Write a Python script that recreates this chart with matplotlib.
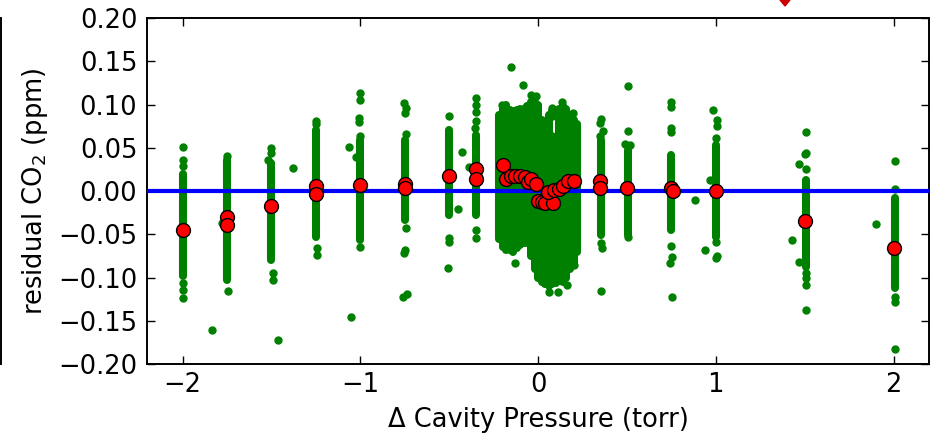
import numpy as np
import matplotlib
matplotlib.use("Agg")
import matplotlib.pyplot as plt
from matplotlib.lines import Line2D
from matplotlib.patches import Polygon

# %% Data
# dense runs of residuals at each pressure step: x, lowest, highest (ppm)
col_x = [-2.0, -1.75, -1.5, -1.25, -1.0, -0.75, -0.503, -0.348,
         0.356, 0.505, 0.749, 1.002, 1.505, 2.006]
col_lo = [-0.098, -0.103, -0.080, -0.053, -0.057, -0.034, -0.028, -0.028,
          -0.051, -0.051, -0.045, -0.053, -0.088, -0.112]
col_hi = [0.020, 0.036, 0.032, 0.070, 0.059, 0.059, 0.070, 0.065,
          0.059, 0.047, 0.042, 0.053, 0.013, -0.008]

# the dense cloud around zero offset: x, lowest, highest
blob_x = [-0.22, -0.20, -0.18, -0.16, -0.14, -0.12, -0.10, -0.08, -0.06,
          -0.04, -0.02, 0.00, 0.02, 0.04, 0.06, 0.08, 0.08, 0.10, 0.10,
          0.12, 0.14, 0.16, 0.18, 0.20, 0.22]
blob_lo = [-0.055, -0.065, -0.068, -0.068, -0.070, -0.066, -0.062, -0.060,
           -0.060, -0.075, -0.090, -0.100, -0.105, -0.108, -0.110, -0.108,
           0.086, -0.106, 0.088, -0.104, -0.105, -0.100, -0.090, -0.085,
           -0.070]
blob_hi = [0.088, 0.098, 0.100, 0.094, 0.093, 0.094, 0.095, 0.095, 0.098,
           0.103, 0.103, 0.100, 0.082, 0.080, 0.088, 0.064, 0.093, 0.062,
           0.090, 0.095, 0.098, 0.095, 0.088, 0.082, 0.078]

# isolated residual points
iso_x = [-2.0, -2.0, -2.0, -2.0, -2.0, -2.0,
         -1.75, -1.745, -1.78, -1.837,
         -1.5, -1.5, -1.52, -1.49, -1.49, -1.466, -1.376,
         -1.25, -1.25, -1.245, -1.245,
         -1.0, -1.0, -1.005, -1.01, -1.0, -1.0, -1.066, -1.027, -1.05,
         -0.755, -0.745, -0.748, -0.745, -0.745, -0.75, -0.755, -0.76, -0.74,
         -0.503, -0.503, -0.50, -0.507, -0.43, -0.45,
         -0.348, -0.348, -0.348, -0.348, -0.352, -0.348, -0.350, -0.386,
         -0.151, -0.085, -0.042, -0.010, 0.136, 0.080, 0.198, -0.127,
         0.060, 0.115, 0.165, 0.200, -0.205,
         0.356, 0.35, 0.365, 0.346, 0.356, 0.358, 0.356,
         0.505, 0.505, 0.49, 0.52, 0.505,
         0.749, 0.749, 0.749, 0.749, 0.749, 0.755, 0.745, 0.755, 0.882,
         0.985, 1.005, 1.005, 1.0, 1.0, 1.005, 1.0, 0.966, 0.942,
         1.505, 1.505, 1.50, 1.47, 1.505, 1.51, 1.505, 1.505, 1.51, 1.43, 1.466,
         2.006, 2.006, 2.006, 2.01, 2.006, 1.904]
iso_y = [0.051, 0.036, 0.029, -0.106, -0.114, -0.124,
         0.041, -0.116, -0.037, -0.161,
         0.050, 0.044, 0.036, -0.095, -0.103, -0.172, 0.027,
         0.081, 0.078, -0.066, -0.074,
         0.113, 0.105, 0.084, 0.080, 0.064, -0.065, 0.051, 0.039, -0.146,
         0.102, 0.096, 0.090, 0.066, -0.043, -0.068, -0.072, -0.122, -0.119,
         0.087, -0.054, -0.059, -0.089, 0.045, -0.021,
         0.107, 0.099, 0.091, 0.081, 0.073, -0.045, -0.054, 0.028,
         0.143, 0.123, 0.111, 0.110, 0.103, 0.096, 0.090, -0.083,
         -0.117, -0.117, -0.109, -0.085, 0.100,
         0.083, 0.079, 0.069, 0.064, -0.060, -0.066, -0.116,
         0.121, 0.069, 0.054, 0.053, -0.053,
         0.103, 0.097, 0.073, 0.068, -0.064, -0.076, -0.083, -0.122, -0.010,
         0.094, 0.082, 0.075, 0.061, -0.059, -0.075, -0.078, 0.013, -0.068,
         0.068, 0.044, 0.043, 0.031, 0.025, -0.095, -0.100, -0.109, -0.138,
         -0.057, -0.082,
         0.035, 0.002, -0.123, -0.128, -0.183, -0.038]

# mean residual for each pressure step
mean_x = [-2.0, -1.75, -1.75, -1.5, -1.25, -1.25, -1.0, -0.75, -0.75,
          -0.5, -0.35, -0.35,
          -0.198, -0.178, -0.155, -0.13, -0.10, -0.075, -0.055, -0.040,
          -0.014, 0.002, 0.022, 0.040, 0.085, 0.055, 0.090, 0.118, 0.143,
          0.168, 0.200,
          0.35, 0.35, 0.5, 0.75, 0.76, 1.0, 1.5, 2.0]
mean_y = [-0.045, -0.030, -0.039, -0.017, 0.006, -0.004, 0.007, 0.008, 0.004,
          0.017, 0.025, 0.014,
          0.030, 0.014, 0.017, 0.017, 0.017, 0.016, 0.010, 0.014,
          0.008, -0.011, -0.013, -0.014, -0.014, -0.001, 0.001, 0.002, 0.006,
          0.011, 0.012,
          0.012, 0.003, 0.003, 0.004, 0.000, 0.000, -0.035, -0.066]

yticks = [-0.20, -0.15, -0.10, -0.05, 0.00, 0.05, 0.10, 0.15, 0.20]
xticks = [-2, -1, 0, 1, 2]

# %% Plot
green = "#008000"
fs = 18.5
plt.rcParams["font.family"] = "DejaVu Sans"
plt.rcParams["axes.unicode_minus"] = True

fig = plt.figure(figsize=(9.36, 4.38), dpi=100)
ax = fig.add_axes([0.1571, 0.1689, 0.8355, 0.7900])

ax.vlines(col_x, col_lo, col_hi, colors=green, linewidth=5.8,
          capstyle="round", zorder=2)
ax.vlines(blob_x, blob_lo, blob_hi, colors=green, linewidth=5.8,
          capstyle="round", zorder=2)
ax.plot(iso_x, iso_y, "o", color=green, markersize=5, markeredgecolor=green,
        zorder=2)
ax.axhline(0, color="#0000ff", linewidth=3, zorder=3)
ax.plot(mean_x, mean_y, "o", color="#ff0000", markersize=10,
        markeredgecolor="k", markeredgewidth=1, zorder=4)

ax.set_xlim(-2.2, 2.2)
ax.set_ylim(-0.2, 0.2)
ax.set_xticks(xticks)
ax.set_yticks(yticks)
ax.set_yticklabels([f"{v:.2f}".replace("-", "\u2212") for v in yticks])
ax.tick_params(direction="in", top=True, right=True, length=6, width=1,
               labelsize=fs)
ax.tick_params(axis="y", pad=7)
ax.tick_params(axis="x", pad=6)
for s in ax.spines.values():
    s.set_linewidth(1.4)

ax.set_xlabel("\u0394 Cavity Pressure (torr)", fontsize=fs, labelpad=6)
ax.set_ylabel("residual CO$_2$ (ppm)", fontsize=fs, labelpad=6)

# bits of neighbouring panels cut off by the crop
fig.add_artist(Line2D([0.001, 0.001], [0.17, 0.959], color="k",
                      linewidth=1.4, transform=fig.transFigure))
fig.add_artist(Polygon([[780 / 936, 1.0], [790 / 936, 1.0],
                        [785 / 936, 1 - 6 / 438]], closed=True,
                       color="#cc0000", transform=fig.transFigure))

fig.savefig("out.png", dpi=100)
